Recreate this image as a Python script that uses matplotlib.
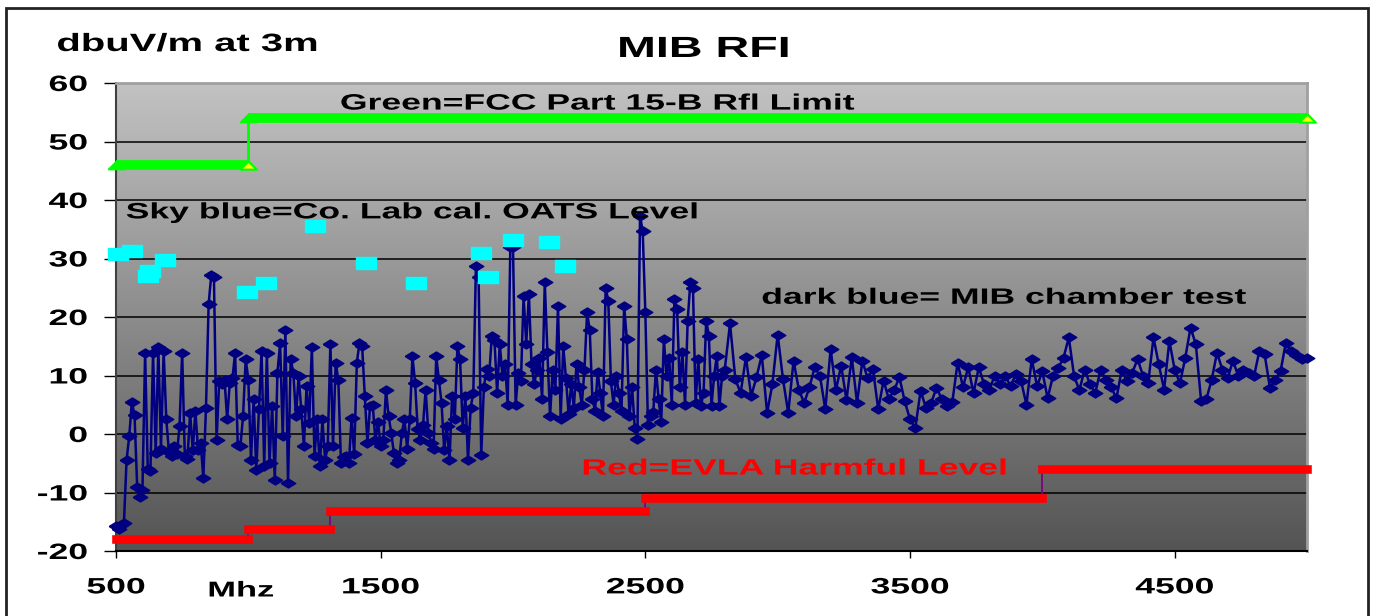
import numpy as np
import matplotlib
matplotlib.use("Agg")
import matplotlib.pyplot as plt
from matplotlib.path import Path
from matplotlib.colors import LinearSegmentedColormap
from matplotlib.patches import Rectangle
from matplotlib.patheffects import AbstractPathEffect
from matplotlib.transforms import Affine2D

# --- MIB chamber test sweep (dbuV/m at 3m) ---
# 500-2790 MHz read every 10 MHz, 2800-5000 MHz every 20 MHz
freq_low = np.arange(500, 2800, 10)
level_low = [
    -15.8, -16.2, -15.6, -15.2, -4.4, -0.4, 5.5, 3.2, -9.0, -10.7,
    -9.5, 13.9, -6.0, -6.4, 13.9, -3.2, 14.8, -2.5, 14.2, 2.5,
    -3.0, -3.8, -2.0, -3.5, 1.3, 13.9, -3.8, -4.2, 3.6, -2.7,
    3.9, -2.7, -1.5, -7.6, 4.5, 22.2, 27.2, 26.8, -1.0, 9.0,
    8.6, 9.3, 2.5, 8.8, 9.5, 13.9, -1.8, -2.1, 3.0, 12.8,
    9.3, -4.4, 5.9, -6.1, 4.2, 14.2, -5.5, 13.8, -5.0, 4.8,
    -7.9, 10.5, 15.6, -0.4, 17.8, -8.4, 12.8, 10.5, 3.0, 9.9,
    4.2, -2.1, 8.2, 1.9, 14.8, -3.8, 2.5, -5.5, 2.5, -4.5,
    -2.1, 15.4, -2.1, 12.2, 9.3, -5.0, -4.0, -3.8, -5.0, 2.8,
    -3.5, 12.2, 15.6, 15.0, 6.5, -1.5, 4.8, 5.0, -1.0, 2.0,
    -2.0, -1.0, 7.6, 3.0, 0.2, -3.3, -5.0, -4.5, 0.2, 2.5,
    -2.5, 2.5, 13.3, 8.8, 0.8, -1.0, 1.5, 7.6, 0.2, -1.5,
    -2.5, 13.3, 9.3, 5.3, -2.7, 1.3, -4.5, 6.5, 2.5, 15.0,
    12.8, 1.0, 6.5, -4.5, 4.5, 7.0, 28.8, 26.8, -3.6, 8.0,
    11.1, 10.0, 16.8, 16.0, 7.0, 15.4, 10.0, 12.0, 5.0, 32.0,
    31.9, 4.9, 10.5, 9.0, 23.6, 15.4, 23.9, 12.0, 8.5, 11.0,
    13.0, 6.0, 26.0, 14.0, 3.0, 11.0, 7.5, 21.9, 2.6, 15.0,
    9.5, 3.5, 8.5, 4.5, 12.0, 8.0, 5.0, 11.0, 20.8, 17.7,
    6.0, 4.0, 10.6, 7.0, 3.0, 25.0, 22.8, 9.0, 5.0, 10.0,
    7.0, 4.0, 21.9, 16.2, 3.0, 8.0, 1.0, -0.8, 37.3, 34.7,
    20.8, 1.5, 3.0, 3.7, 11.0, 6.0, 2.0, 16.2, 10.0, 13.0,
    5.0, 23.1, 21.4, 8.0, 14.0, 5.0, 19.4, 25.9, 24.9, 5.3,
    12.8, 4.8, 7.0, 19.4, 16.8, 4.8, 10.0, 13.4, 4.8, 10.0,
]
freq_high = np.arange(2800, 5001, 20)
level_high = [
    11.0, 18.9, 9.4, 7.0, 13.1, 6.5, 9.7, 13.5, 3.6, 8.5,
    17.0, 9.4, 3.6, 12.5, 7.6, 5.3, 8.0, 11.4, 9.9, 4.2,
    14.5, 7.5, 11.7, 5.8, 13.1, 5.3, 12.5, 9.5, 11.1, 4.2,
    9.1, 6.0, 7.5, 9.7, 5.6, 2.5, 1.0, 7.4, 4.5, 5.3,
    7.9, 6.0, 4.8, 5.5, 12.2, 8.0, 11.4, 7.0, 11.4, 8.5,
    7.5, 10.0, 8.5, 9.9, 8.2, 10.2, 9.0, 5.0, 12.8, 8.2,
    10.7, 6.1, 9.9, 11.3, 13.0, 16.5, 9.9, 7.5, 11.0, 8.5,
    7.0, 11.0, 9.3, 8.0, 6.1, 11.0, 9.0, 10.5, 12.8, 10.0,
    8.7, 16.5, 11.9, 7.6, 15.9, 11.0, 8.7, 13.0, 18.2, 15.3,
    5.6, 6.0, 9.3, 13.9, 11.0, 9.5, 12.5, 10.0, 11.0, 10.5,
    9.9, 14.2, 13.6, 7.9, 9.3, 10.7, 15.6, 14.2, 13.5, 12.8, 13.0,
]

# Co. Lab calibrated OATS levels (sky blue)
sky_freq = [507, 561, 620, 630, 685, 995, 1065, 1250, 1445, 1635, 1880, 1905, 2000, 2135, 2195]
sky_level = [30.7, 31.3, 27.0, 27.9, 29.8, 24.2, 25.8, 35.5, 29.3, 25.8, 31.0, 26.9, 33.1, 32.9, 28.8]

# FCC Part 15-B limit (green) and EVLA harmful level (red), as steps
fcc_edges = [500, 1000, 5000]
fcc_levels = [46, 54]
evla_edges = [500, 1000, 1310, 2500, 4000, 5000]
evla_levels = [-18.0, -16.2, -13.2, -11.0, -6.0]

xticks = [500, 1500, 2500, 3500, 4500]
yticks = list(range(-20, 61, 10))

freq = np.concatenate([freq_low, freq_high])
level = np.array(level_low + level_high)


class StretchX(AbstractPathEffect):
    """widen text glyphs sideways (the source chart was stretched)"""
    def __init__(self, sx, anchor=0.0):
        super().__init__()
        self.sx = sx
        self.anchor = anchor

    def draw_path(self, renderer, gc, tpath, affine, rgbFace=None):
        ext = tpath.get_extents()
        x0 = ext.x0 + self.anchor * ext.width
        t = Affine2D().translate(-x0, 0).scale(self.sx, 1).translate(x0, 0) + affine
        renderer.draw_path(gc, tpath, t, rgbFace)


SX = 1.6

# wide markers
wide_diamond = Path([(-1, 0), (0, 0.62), (1, 0), (0, -0.62), (-1, 0)])
wide_box = Path([(-1, -0.6), (1, -0.6), (1, 0.6), (-1, 0.6), (-1, -0.6)])
wide_tri = Path([(-1, -0.5), (1, -0.5), (0, 0.5), (-1, -0.5)])

plt.rcParams['font.family'] = ['Liberation Sans', 'DejaVu Sans']
plt.rcParams['font.weight'] = 'bold'
plt.rcParams['axes.unicode_minus'] = False

fig = plt.figure(figsize=(13.8, 6.16), dpi=100)
ax = fig.add_axes([116 / 1380, 1 - 551 / 616, 1191 / 1380, 468 / 616])

# grey gradient background
cmap = LinearSegmentedColormap.from_list('bg', ['#c2c2c2', '#8c8c8c', '#545454'])
ax.imshow(np.linspace(0, 1, 256).reshape(-1, 1), cmap=cmap, extent=[500, 5000, -20, 60],
          aspect='auto', zorder=0, interpolation='bilinear')

ax.set_xlim(500, 5000)
ax.set_ylim(-20, 60)
ax.set_axisbelow(True)
ax.yaxis.grid(True, color='black', lw=1.1)

# green limit
for i in range(len(fcc_levels)):
    ax.plot(fcc_edges[i:i + 2], [fcc_levels[i]] * 2, color='#00ff00', lw=7, solid_capstyle='butt',
            zorder=3, clip_on=False)
    ax.plot(fcc_edges[i], fcc_levels[i], marker=wide_tri, ms=12, color='#00ff00', mec='#00ff00',
            zorder=3, clip_on=False)
    ax.plot(fcc_edges[i + 1], fcc_levels[i], marker=wide_tri, ms=12, mfc='yellow', mec='#00ff00', mew=1.5,
            zorder=4, clip_on=False)
for i in range(1, len(fcc_levels)):
    ax.plot([fcc_edges[i]] * 2, [fcc_levels[i - 1], fcc_levels[i]], color='#00ff00', lw=2, zorder=3)

# red harmful level
for i in range(len(evla_levels)):
    ax.plot(evla_edges[i:i + 2], [evla_levels[i]] * 2, color='red', lw=6.2, solid_capstyle='projecting',
            zorder=3, clip_on=False)
for i in range(1, len(evla_levels)):
    ax.plot([evla_edges[i]] * 2, [evla_levels[i - 1], evla_levels[i]], color='#800080', lw=1.3, zorder=2)

# chamber test
ax.plot(freq, level, color='#000080', lw=1.8, marker=wide_diamond, ms=10.5, mfc='#000080',
        mec='#000080', zorder=5, clip_on=False)

# sky blue
ax.plot(sky_freq, sky_level, ls='none', marker=wide_box, ms=15, mfc='#00ffff', mec='#00ffff',
        zorder=6, clip_on=False)

ax.set_xticks(xticks)
ax.set_yticks(yticks)
ax.tick_params(axis='y', direction='out', length=8.5, width=1, pad=12, labelsize=16)
ax.tick_params(axis='x', direction='out', length=5, width=1, pad=14, labelsize=16)
for lab in ax.get_xticklabels():
    lab.set_fontweight('bold')
    lab.set_path_effects([StretchX(SX, 0.5)])
for lab in ax.get_yticklabels():
    lab.set_fontweight('bold')
    lab.set_path_effects([StretchX(SX, 1.0)])

ax.spines['left'].set_color('#404040')
ax.spines['left'].set_linewidth(1.5)
ax.spines['bottom'].set_color('black')
ax.spines['bottom'].set_linewidth(1.5)
for s in ['top', 'right']:
    ax.spines[s].set_color('#a0a0a0')
    ax.spines[s].set_linewidth(2)

# labels
left_fx = [StretchX(SX, 0.0)]
ax.text(1348, 56.4, 'Green=FCC Part 15-B Rfl Limit', fontsize=16, fontweight='bold', va='center',
        zorder=7, path_effects=left_fx)
ax.text(538, 37.8, 'Sky blue=Co. Lab cal. OATS Level', fontsize=16, fontweight='bold', va='center',
        zorder=7, path_effects=left_fx)
ax.text(2940, 23.2, 'dark blue= MIB chamber test', fontsize=16, fontweight='bold', va='center',
        zorder=7, path_effects=left_fx)
ax.text(2262, -6.0, 'Red=EVLA Harmful Level', fontsize=16, fontweight='bold', color='red', va='center',
        zorder=7, path_effects=left_fx)

fig.text(704 / 1380, 1 - 49 / 616, 'MIB RFI', fontsize=21, fontweight='bold', ha='center', va='center',
         path_effects=[StretchX(SX, 0.5)])
fig.text(57 / 1380, 1 - 44 / 616, 'dbuV/m at 3m', fontsize=18, fontweight='bold', ha='left', va='center',
         path_effects=left_fx)
fig.text(241 / 1380, 1 - 591 / 616, 'Mhz', fontsize=15.5, fontweight='bold', ha='center', va='center',
         path_effects=[StretchX(SX, 0.5)])

# outer chart frame
fig.patches.append(Rectangle((6 / 1380, -0.05), 1362 / 1380, 1 - 8 / 616 + 0.05, transform=fig.transFigure,
                             fill=False, edgecolor='#222222', lw=2))

fig.savefig('out.png', dpi=100)
